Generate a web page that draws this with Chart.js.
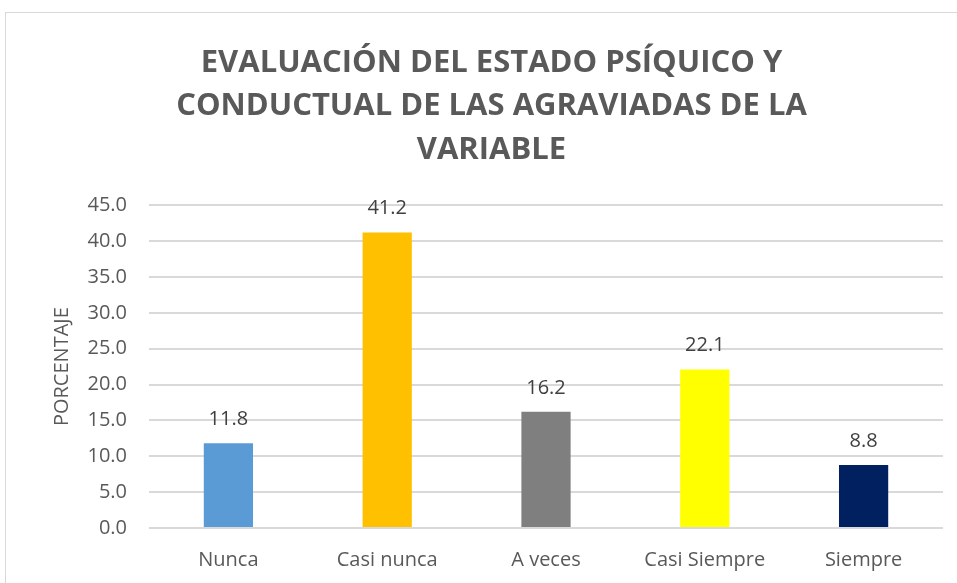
<!DOCTYPE html>
<html>
<head>
<meta charset="utf-8">
<script src="https://cdn.jsdelivr.net/npm/chart.js@4"></script>
<style>
  body { margin: 0; background: #fff; }
  #frame { position: absolute; left: 5px; top: 12px; width: 1000px; height: 600px; border: 1.5px solid #d9d9d9; }
  #wrap { position: absolute; left: 0; top: 0; width: 957px; height: 583px; }
</style>
</head>
<body>
<div id="frame"></div>
<div id="wrap"><canvas id="chart" width="957" height="583"></canvas></div>
<script>
const categories = ["Nunca", "Casi nunca", "A veces", "Casi Siempre", "Siempre"];
const values = [11.8, 41.2, 16.2, 22.1, 8.8];
const barColors = ["#5B9BD5", "#FFC000", "#7F7F7F", "#FFFF00", "#002060"];
const titleLines = ["EVALUACIÓN DEL ESTADO PSÍQUICO Y", "CONDUCTUAL DE LAS AGRAVIADAS DE LA", "VARIABLE"];

const ctx = document.getElementById("chart").getContext("2d");

const labelPlugin = {
  id: "barLabels",
  afterDatasetsDraw: (chart) => {
    const c = chart.ctx;
    const meta = chart.getDatasetMeta(0);
    c.save();
    c.font = "20px 'Open Sans'";
    c.fillStyle = "#404040";
    c.textAlign = "center";
    c.textBaseline = "middle";
    meta.data.forEach((bar, i) => {
      c.fillText(values[i].toFixed(1), bar.x, bar.y - 24);
    });
    c.restore();
  }
};

new Chart(ctx, {
  type: "bar",
  data: {
    labels: categories,
    datasets: [
      {
        data: values,
        backgroundColor: barColors,
        barPercentage: 0.31,
        categoryPercentage: 1
      }
    ]
  },
  options: {
    responsive: false,
    animation: false,
    layout: {
      padding: { left: 40, right: 14, top: 0, bottom: 0 }
    },
    plugins: {
      legend: { display: false },
      tooltip: { enabled: false },
      title: {
        display: true,
        text: titleLines,
        color: "#595959",
        font: { family: "'Open Sans'", size: 31, weight: "bold", lineHeight: 1.39 },
        padding: { top: 42, bottom: 34 }
      }
    },
    scales: {
      x: {
        grid: { display: false, drawTicks: false },
        border: { display: false },
        ticks: {
          color: "#595959",
          font: { family: "'Open Sans'", size: 20 },
          padding: 20,
          maxRotation: 0
        },
        afterFit: (scale) => { scale.height = 55; }
      },
      y: {
        min: 0,
        max: 45,
        grid: { color: "#d9d9d9", lineWidth: 2, drawTicks: false },
        border: { display: false },
        ticks: {
          stepSize: 5,
          color: "#595959",
          font: { family: "'Open Sans'", size: 20 },
          padding: 22,
          callback: (v) => v.toFixed(1)
        },
        title: {
          display: true,
          text: "PORCENTAJE",
          color: "#595959",
          font: { family: "'Open Sans'", size: 20 },
          padding: { top: 10, bottom: 0 }
        },
        afterFit: (scale) => { scale.width = 109; }
      }
    }
  },
  plugins: [labelPlugin]
});
</script>
</body>
</html>
